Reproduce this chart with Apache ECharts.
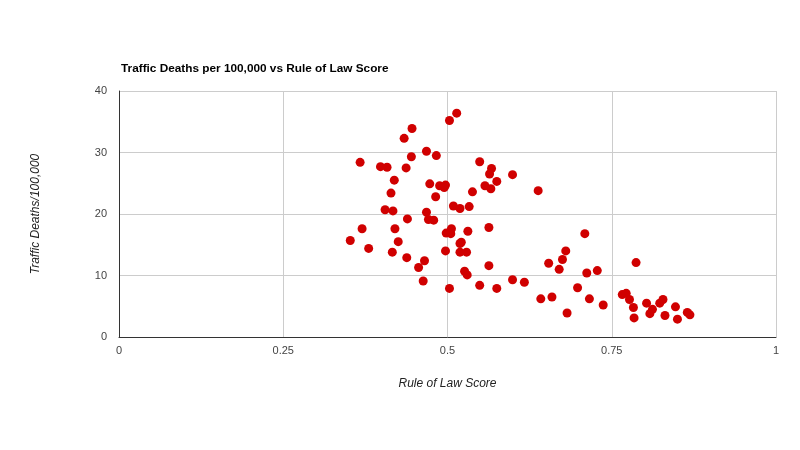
<!DOCTYPE html>
<html>
<head>
<meta charset="utf-8">
<script src="https://cdn.jsdelivr.net/npm/echarts@6/dist/echarts.min.js"></script>
<style>
html,body{margin:0;padding:0;background:#fff;}
#chart{width:800px;height:450px;}
</style>
</head>
<body>
<div id="chart"></div>
<script>
// 法治得分 (x) 与每十万人交通死亡 (y)
var lawScore = [0.514,0.503,0.446,0.434,0.468,0.483,0.445,0.367,0.398,0.408,
    0.437,0.549,0.419,0.414,0.473,0.488,0.497,0.495,0.482,0.557,
    0.538,0.405,0.417,0.468,0.509,0.519,0.533,0.439,0.471,0.479,
    0.370,0.420,0.563,0.506,0.498,0.505,0.531,0.352,0.425,0.521,
    0.519,0.380,0.416,0.497,0.519,0.529,0.563,0.438,0.465,0.456,
    0.526,0.530,0.463,0.549,0.503,0.567,0.564,0.599,0.575,0.566,
    0.638,0.709,0.680,0.675,0.654,0.670,0.712,0.728,0.787,0.599,
    0.617,0.575,0.698,0.642,0.659,0.716,0.737,0.682,0.766,0.772,
    0.777,0.783,0.784,0.803,0.812,0.808,0.823,0.828,0.831,0.847,
    0.850,0.865,0.869];
var deaths = [36.4,35.2,33.9,32.3,30.2,29.5,29.3,28.4,27.7,27.6,
    27.5,28.5,25.5,23.4,24.9,24.6,24.7,24.3,22.8,24.6,
    23.6,20.7,20.5,20.3,21.3,20.9,21.2,19.2,19.1,19.0,
    17.6,17.6,17.8,17.6,16.9,16.8,17.2,15.7,15.5,15.4,
    15.2,14.4,13.8,14.0,13.8,13.8,11.6,12.9,12.4,11.3,
    10.7,10.1,9.1,8.4,7.9,27.4,26.5,26.4,25.3,24.1,
    23.8,16.8,14.0,12.6,12.0,11.0,10.4,10.8,12.1,9.3,
    8.9,7.9,8.0,6.2,6.5,6.2,5.2,3.9,6.9,7.1,
    6.1,4.8,3.1,5.5,4.5,3.8,5.5,6.1,3.5,4.9,
    2.9,4.0,3.6];
var xTicks = [0, 0.25, 0.5, 0.75, 1];
var yTicks = [0, 10, 20, 30, 40];

drawChart();

function drawChart(){
    var myChart = echarts.init(document.getElementById('chart'), null, {renderer:'canvas'});
    var points = [];
    for (var i = 0; i < lawScore.length; i++) {
        points.push([lawScore[i], deaths[i]]);
    }
    var font = '"Liberation Sans", Arial, sans-serif';
    var option = {
        backgroundColor:'#fff',
        animation:false,
        title: {
            text:'Traffic Deaths per 100,000 vs Rule of Law Score',
            left:116,
            top:58,
            textStyle:{fontFamily:font, fontSize:11.8, fontWeight:'bold', color:'#000'}
        },
        grid: {left:119, right:24, top:91, bottom:113},
        xAxis: {
            type:'value',
            min:xTicks[0],
            max:xTicks[xTicks.length-1],
            interval:0.25,
            name:'Rule of Law Score',
            nameLocation:'middle',
            nameGap:41,
            nameTextStyle:{fontFamily:font, fontSize:12, fontStyle:'italic', color:'#222'},
            axisLine:{show:true, lineStyle:{color:'#333', width:1}},
            axisTick:{show:false},
            axisLabel:{
                fontFamily:font, fontSize:11, color:'#444', margin:8,
                formatter:function(v){ return xTicks.indexOf(v) >= 0 ? String(v) : ''; }
            },
            splitLine:{show:true, lineStyle:{color:'#ccc', width:1}}
        },
        yAxis: {
            type:'value',
            min:yTicks[0],
            max:yTicks[yTicks.length-1],
            interval:10,
            name:'Traffic Deaths/100,000',
            nameLocation:'middle',
            nameGap:77,
            nameRotate:90,
            nameTextStyle:{fontFamily:font, fontSize:12, fontStyle:'italic', color:'#222'},
            axisLine:{show:true, lineStyle:{color:'#333', width:1}},
            axisTick:{show:false},
            axisLabel:{fontFamily:font, fontSize:11, color:'#444', margin:12},
            splitLine:{show:true, lineStyle:{color:'#ccc', width:1}}
        },
        series: [
            {
                type:'scatter',
                data:points,
                symbolSize:9,
                itemStyle:{color:'#d00000', opacity:1}
            }
        ]
    };
    myChart.setOption(option);
}
</script>
</body>
</html>
